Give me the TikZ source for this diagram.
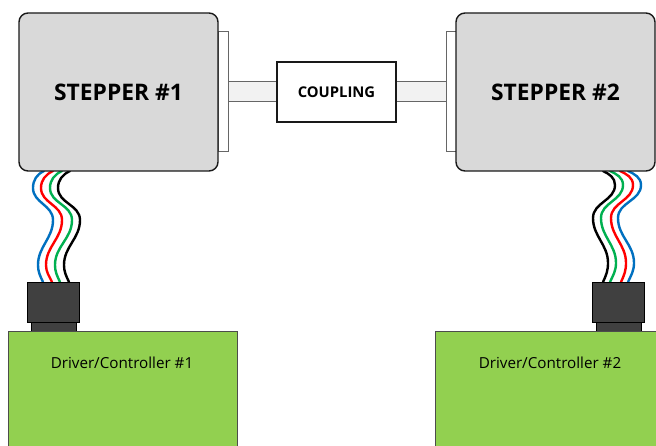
\documentclass[tikz,border=0pt]{standalone}
\usepackage{fontspec}
\setmainfont{Open Sans}[BoldFont={* Bold}]
\definecolor{motor}{HTML}{D9D9D9}
\definecolor{shaftc}{HTML}{F2F2F2}
\definecolor{drv}{HTML}{92D050}
\definecolor{plug}{HTML}{404040}
\definecolor{wblue}{HTML}{0070C0}
\definecolor{wgreen}{HTML}{00B050}
\tikzset{
  px/.style={inner sep=0pt,outer sep=0pt,anchor=south west},
  stepperbox/.style={px,draw=black!90,line width=1.4pt,fill=motor,rounded corners=9pt,minimum width=199pt,minimum height=158pt,font=\bfseries\fontsize{22.8}{24}\selectfont},
  flangebox/.style={px,draw=black!60,line width=1pt,fill=white,minimum width=10pt,minimum height=120pt},
  shaftbox/.style={px,draw=black!60,line width=1pt,fill=shaftc,minimum height=20pt},
  couplingbox/.style={px,draw=black!90,line width=1.2pt,fill=white,minimum width=119pt,minimum height=60pt,font=\bfseries\fontsize{14.8}{16}\selectfont},
  plugbox/.style={px,draw=black,line width=.8pt,fill=plug,minimum width=52pt,minimum height=40pt},
  plugneck/.style={px,draw=black,line width=.8pt,fill=plug,minimum width=45pt,minimum height=9pt},
  driverbox/.style={px,draw=black!70,line width=1pt,fill=drv,minimum width=229pt,minimum height=124pt},
  drvlabel/.style={inner sep=0pt,font=\fontsize{15.2}{17}\selectfont},
  wire/.style={line width=2.4pt,line cap=round}
}
\begin{document}
\begin{tikzpicture}[x=1pt,y=1pt]
\clip (0,0) rectangle (656,445);
\fill[white] (0,0) rectangle (656,445);
\foreach \n/\c/\ta/\a/\b/\d/\ba in {
  la/wblue/44/33/53/38/43,
  lb/red/53/41/62/46/52,
  lc/wgreen/62/50/72/55/60,
  ld/black/70/58/80/64/69}
{
  \coordinate (\n t) at (\ta,274);
  \coordinate (\n b) at (\ba,163);
  \draw[wire,draw=\c] (\n t) to[out=205,in=90] (\a,257) to[out=-90,in=90] (\b,225) to[out=-90,in=90] (\d,180) to[out=-90,in=115] (\n b);
}
\foreach \n/\c/\ta/\a/\b/\d/\ba in {
  ra/wblue/628/641/618/634/628,
  rb/red/620/633/611/626/621,
  rc/wgreen/610/623/601/616/610,
  rd/black/603/615/593/608/603}
{
  \coordinate (\n t) at (\ta,274);
  \coordinate (\n b) at (\ba,163);
  \draw[wire,draw=\c] (\n t) to[out=-25,in=90] (\a,260) to[out=-90,in=90] (\b,227) to[out=-90,in=90] (\d,182) to[out=-90,in=65] (\n b);
}
\node[flangebox] (f1) at (218,293) {};
\node[flangebox] (f2) at (446,293) {};
\node[shaftbox,minimum width=49pt] (s1) at (228,343) {};
\node[shaftbox,minimum width=50pt] (s2) at (396,343) {};
\node[couplingbox] (cp) at (277,323) {COUPLING};
\node[stepperbox] (m1) at (19,274) {STEPPER \#1};
\node[stepperbox] (m2) at (456,274) {STEPPER \#2};
\node[plugneck] (n1) at (31,114) {};
\node[plugneck] (n2) at (596,114) {};
\node[plugbox] (p1) at (27,123) {};
\node[plugbox] (p2) at (592,123) {};
\node[driverbox] (d1) at (8,-10) {};
\node[driverbox] (d2) at (435,-10) {};
\node[drvlabel] (t1) at (122,82) {Driver/Controller \#1};
\node[drvlabel] (t2) at (550,82) {Driver/Controller \#2};
\end{tikzpicture}
\end{document}
